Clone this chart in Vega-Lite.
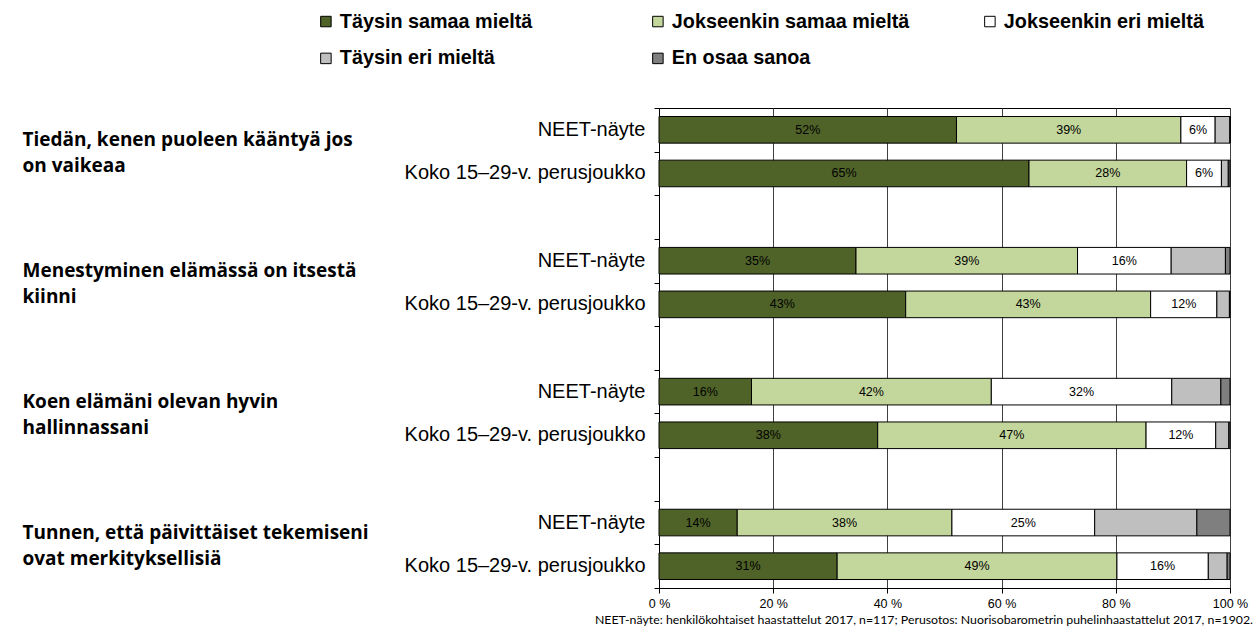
{
  "$schema": "https://vega.github.io/schema/vega-lite/v6.json",
  "autosize": {"type": "none"},
  "width": 571,
  "height": 480,
  "padding": {"left": 659, "top": 108, "right": 27, "bottom": 51},
  "background": "white",
  "config": {
    "view": {"stroke": "black", "strokeWidth": 1},
    "font": "Liberation Sans"
  },
  "title": {
    "text": "NEET-näyte: henkilökohtaiset haastattelut 2017,  n=117; Perusotos: Nuorisobarometrin puhelinhaastattelut 2017, n=1902.",
    "orient": "bottom",
    "anchor": "end",
    "frame": "group",
    "font": "Lato",
    "fontSize": 12.3,
    "fontWeight": "normal",
    "color": "black",
    "dx": 23,
    "offset": 4
  },
  "data": {
    "values": [
      {"row": "1 NEET-näyte", "cat": "Täysin samaa mieltä", "ord": 1, "value": 0.521},
      {"row": "1 NEET-näyte", "cat": "Jokseenkin samaa mieltä", "ord": 2, "value": 0.393},
      {"row": "1 NEET-näyte", "cat": "Jokseenkin eri mieltä", "ord": 3, "value": 0.06},
      {"row": "1 NEET-näyte", "cat": "Täysin eri mieltä", "ord": 4, "value": 0.026},
      {"row": "1 NEET-näyte", "cat": "En osaa sanoa", "ord": 5, "value": 0.0},
      {"row": "1 Koko 15–29-v. perusjoukko", "cat": "Täysin samaa mieltä", "ord": 1, "value": 0.648},
      {"row": "1 Koko 15–29-v. perusjoukko", "cat": "Jokseenkin samaa mieltä", "ord": 2, "value": 0.276},
      {"row": "1 Koko 15–29-v. perusjoukko", "cat": "Jokseenkin eri mieltä", "ord": 3, "value": 0.061},
      {"row": "1 Koko 15–29-v. perusjoukko", "cat": "Täysin eri mieltä", "ord": 4, "value": 0.012},
      {"row": "1 Koko 15–29-v. perusjoukko", "cat": "En osaa sanoa", "ord": 5, "value": 0.003},
      {"row": "2 NEET-näyte", "cat": "Täysin samaa mieltä", "ord": 1, "value": 0.345},
      {"row": "2 NEET-näyte", "cat": "Jokseenkin samaa mieltä", "ord": 2, "value": 0.388},
      {"row": "2 NEET-näyte", "cat": "Jokseenkin eri mieltä", "ord": 3, "value": 0.164},
      {"row": "2 NEET-näyte", "cat": "Täysin eri mieltä", "ord": 4, "value": 0.095},
      {"row": "2 NEET-näyte", "cat": "En osaa sanoa", "ord": 5, "value": 0.008},
      {"row": "2 Koko 15–29-v. perusjoukko", "cat": "Täysin samaa mieltä", "ord": 1, "value": 0.432},
      {"row": "2 Koko 15–29-v. perusjoukko", "cat": "Jokseenkin samaa mieltä", "ord": 2, "value": 0.429},
      {"row": "2 Koko 15–29-v. perusjoukko", "cat": "Jokseenkin eri mieltä", "ord": 3, "value": 0.116},
      {"row": "2 Koko 15–29-v. perusjoukko", "cat": "Täysin eri mieltä", "ord": 4, "value": 0.022},
      {"row": "2 Koko 15–29-v. perusjoukko", "cat": "En osaa sanoa", "ord": 5, "value": 0.001},
      {"row": "3 NEET-näyte", "cat": "Täysin samaa mieltä", "ord": 1, "value": 0.162},
      {"row": "3 NEET-näyte", "cat": "Jokseenkin samaa mieltä", "ord": 2, "value": 0.42},
      {"row": "3 NEET-näyte", "cat": "Jokseenkin eri mieltä", "ord": 3, "value": 0.316},
      {"row": "3 NEET-näyte", "cat": "Täysin eri mieltä", "ord": 4, "value": 0.086},
      {"row": "3 NEET-näyte", "cat": "En osaa sanoa", "ord": 5, "value": 0.016},
      {"row": "3 Koko 15–29-v. perusjoukko", "cat": "Täysin samaa mieltä", "ord": 1, "value": 0.383},
      {"row": "3 Koko 15–29-v. perusjoukko", "cat": "Jokseenkin samaa mieltä", "ord": 2, "value": 0.47},
      {"row": "3 Koko 15–29-v. perusjoukko", "cat": "Jokseenkin eri mieltä", "ord": 3, "value": 0.122},
      {"row": "3 Koko 15–29-v. perusjoukko", "cat": "Täysin eri mieltä", "ord": 4, "value": 0.023},
      {"row": "3 Koko 15–29-v. perusjoukko", "cat": "En osaa sanoa", "ord": 5, "value": 0.002},
      {"row": "4 NEET-näyte", "cat": "Täysin samaa mieltä", "ord": 1, "value": 0.137},
      {"row": "4 NEET-näyte", "cat": "Jokseenkin samaa mieltä", "ord": 2, "value": 0.376},
      {"row": "4 NEET-näyte", "cat": "Jokseenkin eri mieltä", "ord": 3, "value": 0.25},
      {"row": "4 NEET-näyte", "cat": "Täysin eri mieltä", "ord": 4, "value": 0.179},
      {"row": "4 NEET-näyte", "cat": "En osaa sanoa", "ord": 5, "value": 0.058},
      {"row": "4 Koko 15–29-v. perusjoukko", "cat": "Täysin samaa mieltä", "ord": 1, "value": 0.312},
      {"row": "4 Koko 15–29-v. perusjoukko", "cat": "Jokseenkin samaa mieltä", "ord": 2, "value": 0.49},
      {"row": "4 Koko 15–29-v. perusjoukko", "cat": "Jokseenkin eri mieltä", "ord": 3, "value": 0.16},
      {"row": "4 Koko 15–29-v. perusjoukko", "cat": "Täysin eri mieltä", "ord": 4, "value": 0.033},
      {"row": "4 Koko 15–29-v. perusjoukko", "cat": "En osaa sanoa", "ord": 5, "value": 0.005}
    ]
  },
  "layer": [
    {
      "layer": [
        {
          "mark": {"type": "bar", "stroke": "black", "strokeWidth": 1},
          "encoding": {
            "x": {
              "field": "value",
              "type": "quantitative",
              "stack": "zero",
              "scale": {"domain": [0, 1], "nice": false},
              "title": null,
              "axis": {
                "values": [0, 0.2, 0.4, 0.6, 0.8, 1],
                "labelExpr": "format(datum.value * 100, 'd') + ' %'",
                "labelFlush": false,
                "grid": true,
                "gridColor": "#404040",
                "gridWidth": 1,
                "domainColor": "black",
                "tickColor": "black",
                "tickSize": 5,
                "labelFont": "Liberation Sans",
                "labelFontSize": 12.5,
                "labelColor": "black",
                "labelPadding": 4
              }
            },
            "y": {
              "field": "row",
              "type": "nominal",
              "title": null,
              "scale": {
                "domain": ["1 NEET-näyte", "1 Koko 15–29-v. perusjoukko", "g1", "2 NEET-näyte", "2 Koko 15–29-v. perusjoukko", "g2", "3 NEET-näyte", "3 Koko 15–29-v. perusjoukko", "g3", "4 NEET-näyte", "4 Koko 15–29-v. perusjoukko"],
                "paddingInner": 0.39,
                "paddingOuter": 0.195
              },
              "axis": {
                "orient": "left",
                "labelExpr": "substring(datum.value, 2)",
                "ticks": false,
                "tickSize": 0,
                "labelPadding": 14,
                "domainColor": "black",
                "labelFont": "Liberation Sans",
                "labelFontSize": 20,
                "labelColor": "black",
                "labelLimit": 0
              }
            },
            "color": {
              "field": "cat",
              "type": "nominal",
              "scale": {
                "domain": ["Täysin samaa mieltä", "Jokseenkin samaa mieltä", "Jokseenkin eri mieltä", "Täysin eri mieltä", "En osaa sanoa"],
                "range": ["#4F6228", "#C3D69B", "#FFFFFF", "#BFBFBF", "#7F7F7F"]
              },
              "legend": {
                "orient": "none",
                "legendX": -343,
                "legendY": -96.5,
                "direction": "horizontal",
                "columns": 3,
                "gridAlign": "all",
                "title": null,
                "padding": 0,
                "symbolType": "square",
                "symbolSize": 110,
                "symbolStrokeColor": "black",
                "symbolStrokeWidth": 1,
                "symbolOpacity": 1,
                "labelFont": "Liberation Sans",
                "labelFontSize": 19.8,
                "labelFontWeight": "bold",
                "labelColor": "black",
                "labelOffset": 4,
                "labelLimit": 0,
                "columnPadding": 70,
                "rowPadding": 16
              }
            },
            "order": {"field": "ord", "type": "quantitative"}
          }
        },
        {
          "transform": [
            {"stack": "value", "groupby": ["row"], "sort": [{"field": "ord", "order": "ascending"}], "as": ["v0", "v1"]},
            {"filter": "datum.ord <= 3"},
            {"calculate": "(datum.v0 + datum.v1) / 2", "as": "mid"}
          ],
          "mark": {"type": "text", "font": "Liberation Sans", "fontSize": 12.5, "color": "black", "baseline": "middle", "align": "center"},
          "encoding": {
            "x": {"field": "mid", "type": "quantitative", "title": null},
            "y": {"field": "row", "type": "nominal", "title": null},
            "text": {"field": "value", "type": "quantitative", "format": ".0%"}
          }
        }
      ]
    },
    {
      "data": {
        "values": [
          {"question": "Tiedän, kenen puoleen kääntyä jos|on vaikeaa"},
          {"question": "Menestyminen elämässä on itsestä|kiinni"},
          {"question": "Koen elämäni olevan hyvin|hallinnassani"},
          {"question": "Tunnen, että päivittäiset tekemiseni|ovat merkityksellisiä"}
        ]
      },
      "mark": {"type": "point", "opacity": 0},
      "encoding": {
        "y": {
          "field": "question",
          "type": "nominal",
          "title": null,
          "scale": {
            "type": "point",
            "padding": 0,
            "domain": ["b0", "Tiedän, kenen puoleen kääntyä jos|on vaikeaa", "b2", "b3", "Menestyminen elämässä on itsestä|kiinni", "b5", "b6", "Koen elämäni olevan hyvin|hallinnassani", "b8", "b9", "Tunnen, että päivittäiset tekemiseni|ovat merkityksellisiä", "b11"]
          },
          "axis": {
            "orient": "left",
            "labelExpr": "indexof(datum.value, '|') >= 0 ? split(datum.value, '|') : ''",
            "domain": false,
            "ticks": true,
            "tickSize": 5,
            "tickColor": "black",
            "labelAlign": "left",
            "labelBaseline": "middle",
            "labelPadding": 632,
            "labelOffset": -12,
            "labelFont": "Open Sans",
            "labelFontSize": 19,
            "labelFontWeight": "bold",
            "labelColor": "black",
            "labelLineHeight": 26,
            "labelLimit": 0,
            "labelOverlap": false
          }
        }
      }
    }
  ],
  "resolve": {"scale": {"y": "independent"}}
}
